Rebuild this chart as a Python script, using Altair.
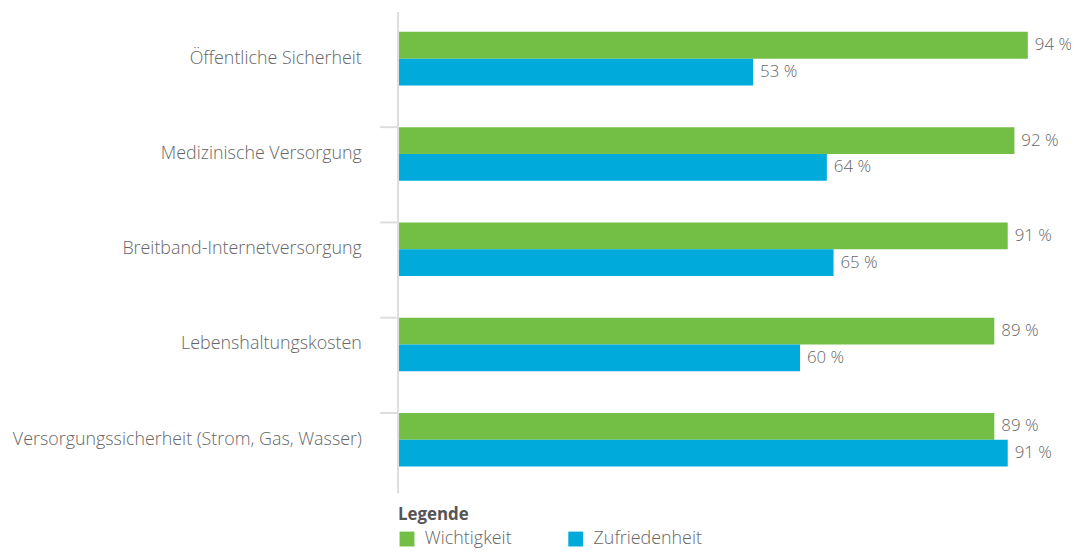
import altair as alt
import pandas as pd

categories = [
    "Öffentliche Sicherheit",
    "Medizinische Versorgung",
    "Breitband-Internetversorgung",
    "Lebenshaltungskosten",
    "Versorgungssicherheit (Strom, Gas, Wasser)",
]
series = ["Wichtigkeit", "Zufriedenheit"]
wichtigkeit = [94, 92, 91, 89, 89]
zufriedenheit = [53, 64, 65, 60, 91]
colors = ["#73bf45", "#00abdc"]

rows = []
for c, w, z in zip(categories, wichtigkeit, zufriedenheit):
    rows.append({"cat": c, "series": series[0], "value": w, "label": f"{w} %"})
    rows.append({"cat": c, "series": series[1], "value": z, "label": f"{z} %"})
df = pd.DataFrame(rows)

FONT = "Open Sans"
TXT = "#666666"

yscale = alt.Scale(domain=categories, paddingInner=0.4375, paddingOuter=0.21875)
xscale = alt.Scale(domain=[0, 100])

base = alt.Chart(df).encode(
    y=alt.Y("cat:N", scale=yscale, title=None,
            axis=alt.Axis(ticks=False, domain=False, labelPadding=37,
                          labelFontSize=18, labelColor=TXT, labelFont=FONT,
                          labelFontWeight=300, labelLimit=400)),
    yOffset=alt.YOffset("series:N", scale=alt.Scale(domain=series, paddingInner=0, paddingOuter=0)),
    x=alt.X("value:Q", scale=xscale, axis=None),
)

bars = base.mark_bar(size=27).encode(
    color=alt.Color("series:N", scale=alt.Scale(domain=series, range=colors),
                    legend=alt.Legend(title="Legende", orient="none", legendX=0, legendY=500,
                                      direction="horizontal", symbolType="square",
                                      symbolSize=225, symbolStrokeWidth=0,
                                      titleFontSize=17, titleFontWeight="bold",
                                      titleColor="#555555", titleFont=FONT,
                                      labelFontSize=18, labelColor=TXT, labelFont=FONT,
                                      labelFontWeight=300,
                                      labelOffset=9, columnPadding=55, titlePadding=6))
)

texts = base.mark_text(align="left", baseline="middle", dx=7, fontSize=17,
                       color=TXT, font=FONT, fontWeight=300).encode(text="label:N")

tick_df = pd.DataFrame({"cat": categories[1:]})
ticks = alt.Chart(tick_df).mark_rule(color="#dddddd", strokeWidth=2).encode(
    y=alt.Y("cat:N", scale=yscale, bandPosition=0),
    x=alt.value(-18), x2=alt.value(0),
)

axis_line = alt.Chart(pd.DataFrame({"a": [0]})).mark_rule(color="#dddddd", strokeWidth=2).encode(
    x=alt.value(0), y=alt.value(1), y2=alt.value(486)
)

chart = alt.layer(bars, texts, ticks, axis_line).properties(
    width=675, height=480,
    autosize=alt.AutoSizeParams(type="none"),
    padding={"left": 393, "top": 1, "right": 3, "bottom": 62},
).configure_view(stroke=None)

chart.save("out.html", embed_options={"renderer": "svg", "actions": False})
